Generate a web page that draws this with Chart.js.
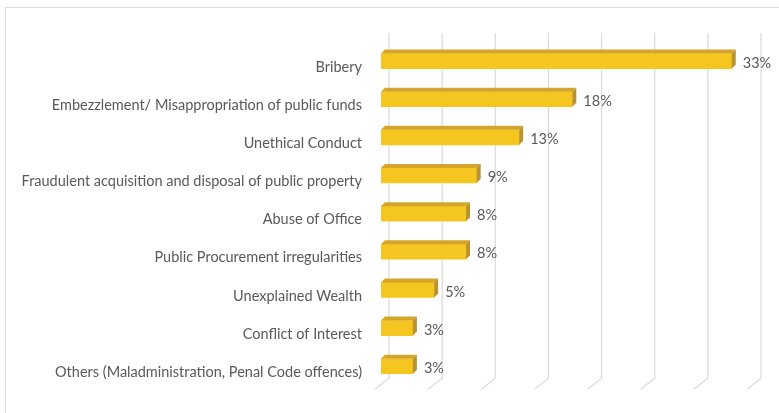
<!DOCTYPE html>
<html><head><meta charset="utf-8">
<script src="https://cdn.jsdelivr.net/npm/chart.js@4.4.0/dist/chart.umd.min.js"></script>
<style>html,body{margin:0;padding:0;background:#fff;overflow:hidden}#wrap{width:779px;height:413px;position:relative}</style>
</head><body><div id="wrap"><canvas id="c"></canvas></div>
<script>
const categories = [
  'Bribery',
  'Embezzlement/ Misappropriation of public funds',
  'Unethical Conduct',
  'Fraudulent acquisition and disposal of public property',
  'Abuse of Office',
  'Public Procurement irregularities',
  'Unexplained Wealth',
  'Conflict of Interest',
  'Others (Maladministration, Penal Code offences)'
];
const values = [33, 18, 13, 9, 8, 8, 5, 3, 3];
const valueLabels = ['33%', '18%', '13%', '9%', '8%', '8%', '5%', '3%', '3%'];
const axisMin = 0, axisMax = 35, axisStep = 5;

const FONT = 'Lato';
const TXT = '#595959';
const FRONT = '#F5C520', TOPC = '#D3A62B', SIDE = '#B99330', GRID = '#dcdcdc';
const D = 4;

const deco = {
  id: 'deco',
  beforeDraw(chart) {
    const ctx = chart.ctx;
    ctx.save();
    ctx.fillStyle = '#fff';
    ctx.fillRect(0, 0, chart.width, chart.height);
    ctx.strokeStyle = GRID; ctx.lineWidth = 1;
    ctx.strokeRect(5.5, 7.5, chart.width + 20, chart.height + 20);
    ctx.restore();
  },
  beforeDatasetsDraw(chart) {
    const ctx = chart.ctx, xs = chart.scales.x, ca = chart.chartArea;
    ctx.save();
    ctx.strokeStyle = GRID; ctx.lineWidth = 1.3;
    for (let v = axisMin; v <= axisMax; v += axisStep) {
      const px = xs.getPixelForValue(v) + 8;
      ctx.beginPath();
      ctx.moveTo(px, ca.top - 9);
      ctx.lineTo(px, ca.bottom - 7);
      ctx.lineTo(px - 14, ca.bottom + 4);
      ctx.stroke();
    }
    ctx.restore();
  },
  afterDatasetsDraw(chart) {
    const ctx = chart.ctx;
    const meta = chart.getDatasetMeta(0);
    ctx.save();
    meta.data.forEach((el, i) => {
      const p = el.getProps(['x', 'y', 'base', 'height'], true);
      const top = p.y - p.height / 2, bot = p.y + p.height / 2;
      const x0 = p.base, x1 = p.x;
      ctx.fillStyle = TOPC;
      ctx.beginPath();
      ctx.moveTo(x0, top); ctx.lineTo(x1, top); ctx.lineTo(x1 + D, top - D); ctx.lineTo(x0 + D, top - D);
      ctx.closePath(); ctx.fill();
      ctx.fillStyle = SIDE;
      ctx.beginPath();
      ctx.moveTo(x1, top); ctx.lineTo(x1 + D, top - D); ctx.lineTo(x1 + D, bot - D); ctx.lineTo(x1, bot);
      ctx.closePath(); ctx.fill();
      ctx.fillStyle = TXT;
      ctx.font = '14.5px ' + FONT;
      ctx.textAlign = 'left'; ctx.textBaseline = 'middle';
      ctx.fillText(valueLabels[i], x1 + 11, p.y + 2);
    });
    ctx.restore();
  }
};

new Chart(document.getElementById('c'), {
  type: 'bar',
  data: {
    labels: categories,
    datasets: [{ data: values, backgroundColor: FRONT, borderWidth: 0, barThickness: 15 }]
  },
  options: {
    indexAxis: 'y',
    responsive: true,
    maintainAspectRatio: false,
    animation: false,
    layout: { padding: { top: 42, bottom: 26, left: 0, right: 26 } },
    plugins: { legend: { display: false }, tooltip: { enabled: false } },
    scales: {
      x: { type: 'linear', min: axisMin, max: axisMax, display: false },
      y: {
        type: 'category',
        afterFit(s) { s.width = 381; },
        grid: { display: false, drawTicks: false },
        border: { display: false },
        ticks: { color: TXT, font: { family: FONT, size: 14.5 }, padding: 19, labelOffset: 6, autoSkip: false }
      }
    }
  },
  plugins: [deco]
});
</script></body></html>
